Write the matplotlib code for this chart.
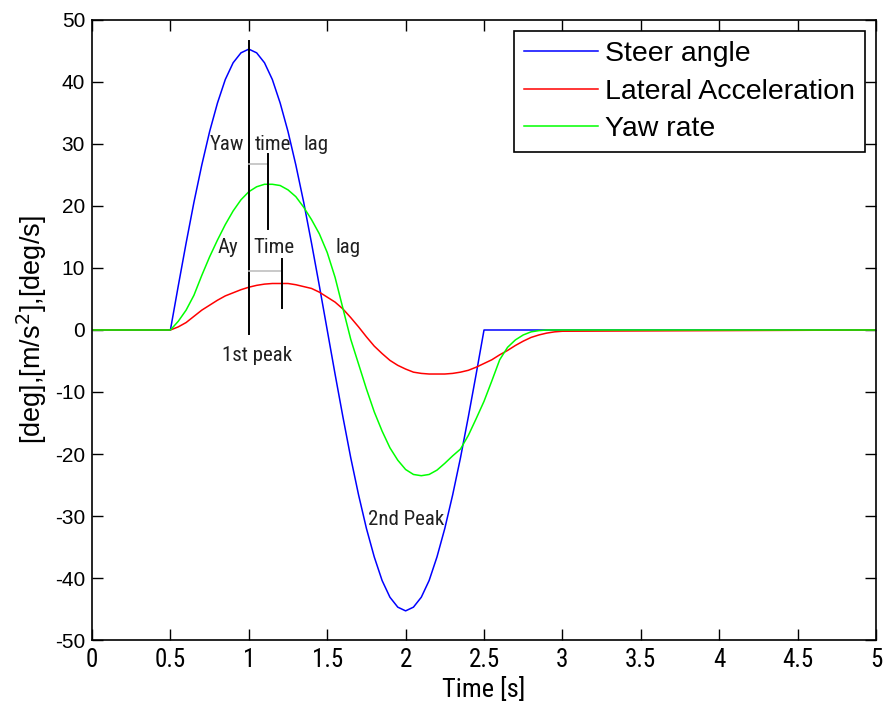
import matplotlib

matplotlib.use("Agg")
import matplotlib.pyplot as plt


# time samples [s]
time = [0.0,
        0.5, 0.55, 0.6, 0.65, 0.7, 0.75, 0.8, 0.85, 0.9, 0.95,
        1.0, 1.05, 1.1, 1.15, 1.2, 1.25, 1.3, 1.35, 1.4, 1.45,
        1.5, 1.55, 1.6, 1.65, 1.7, 1.75, 1.8, 1.85, 1.9, 1.95,
        2.0, 2.05, 2.1, 2.15, 2.2, 2.25, 2.3, 2.35, 2.4, 2.45,
        2.5, 2.55, 2.6, 2.65, 2.7, 2.75, 2.8, 2.85, 2.9, 2.95,
        3.0, 5.0]

steer = [0.0,
         0.0, 7.1, 14.0, 20.6, 26.6, 32.0, 36.6, 40.4, 43.1, 44.7,
         45.3, 44.7, 43.1, 40.4, 36.6, 32.0, 26.6, 20.6, 14.0, 7.1,
         0.0, -7.1, -14.0, -20.6, -26.6, -32.0, -36.6, -40.4, -43.1, -44.7,
         -45.3, -44.7, -43.1, -40.4, -36.6, -32.0, -26.6, -20.6, -14.0, -7.1,
         0.0, 0.0, 0.0, 0.0, 0.0, 0.0, 0.0, 0.0, 0.0, 0.0,
         0.0, 0.0]

lat_acc = [0.0,
           0.0, 0.5, 1.2, 2.2, 3.2, 4.0, 4.8, 5.5, 6.0, 6.5,
           6.9, 7.2, 7.4, 7.5, 7.5, 7.5, 7.3, 7.0, 6.7, 6.1,
           5.3, 4.5, 3.4, 2.0, 0.5, -1.1, -2.6, -3.8, -4.9, -5.7,
           -6.3, -6.8, -7.0, -7.1, -7.1, -7.1, -7.0, -6.8, -6.5, -6.0,
           -5.4, -4.8, -4.0, -3.3, -2.5, -1.8, -1.2, -0.8, -0.5, -0.3,
           -0.2, 0.0]

yaw_rate = [0.0,
            0.0, 1.4, 3.2, 5.6, 8.8, 11.8, 14.5, 17.0, 19.2, 21.0,
            22.3, 23.1, 23.5, 23.5, 23.3, 22.6, 21.5, 19.8, 17.8, 15.5,
            12.5, 8.5, 3.5, -1.5, -5.5, -9.5, -13.2, -16.3, -19.0, -21.0,
            -22.5, -23.3, -23.5, -23.3, -22.6, -21.5, -20.3, -19.2, -17.0, -14.3,
            -11.5, -8.2, -4.8, -2.8, -1.6, -0.8, -0.3, -0.1, 0.0, 0.0,
            0.0, 0.0]

labels = ["Steer angle", "Lateral Acceleration", "Yaw rate"]
colors = ["#0000ff", "#ff0000", "#00ff00"]

x_ticks = [0, 0.5, 1, 1.5, 2, 2.5, 3, 3.5, 4, 4.5, 5]
x_tick_labels = ["0", "0.5", "1", "1.5", "2", "2.5", "3", "3.5", "4", "4.5", "5"]
y_ticks = [-50, -40, -30, -20, -10, 0, 10, 20, 30, 40, 50]

narrow = ["Liberation Sans Narrow", "Roboto Condensed", "Open Sans Condensed",
          "DejaVu Sans Condensed", "Liberation Sans"]
wide = ["Liberation Sans", "DejaVu Sans"]

plt.rcParams["font.family"] = wide

fig = plt.figure(figsize=(8.83, 7.01), dpi=100)
ax = fig.add_axes([0.1042, 0.0870, 0.8879, 0.8845])

for series, lab, col in zip([steer, lat_acc, yaw_rate], labels, colors):
    ax.plot(time, series, color=col, linewidth=1.1, label=lab)

# annotation markers: 1st peak line and time lag bars
ax.plot([1.0, 1.0], [-0.7, 46.6], color="black", linewidth=1.4)
ax.plot([1.0, 1.125], [26.7, 26.7], color="#c0c0c0", linewidth=1.2)
ax.plot([1.125, 1.125], [16.3, 28.4], color="black", linewidth=1.4)
ax.plot([1.0, 1.21], [9.5, 9.5], color="#c0c0c0", linewidth=1.2)
ax.plot([1.21, 1.21], [3.6, 11.4], color="black", linewidth=1.4)

txt = dict(family=narrow, fontsize=15, va="baseline", ha="left", color="#202020",
           fontstretch="condensed")
ax.text(0.753, 29.0, "Yaw", **txt)
ax.text(1.04, 29.0, "time", **txt)
ax.text(1.346, 29.0, "lag", **txt)
ax.text(0.80, 12.4, "Ay", **txt)
ax.text(1.03, 12.4, "Time", **txt)
ax.text(1.55, 12.4, "lag", **txt)
ax.text(0.83, -5.0, "1st peak", **txt)
ax.text(1.76, -31.5, "2nd Peak", **txt)

ax.set_xlim(0, 5)
ax.set_ylim(-50, 50)
ax.set_xticks(x_ticks)
ax.set_xticklabels(x_tick_labels, family=narrow, fontsize=18, fontstretch="condensed")
ax.set_yticks(y_ticks)
ax.set_yticklabels([str(v) for v in y_ticks], fontsize=15)
ax.tick_params(direction="in", length=8, width=1, top=True, right=True, colors="black")
ax.tick_params(axis="x", pad=6)
ax.tick_params(axis="y", pad=5)
for sp in ax.spines.values():
    sp.set_linewidth(1.2)

ax.set_xlabel("Time [s]", family=narrow, fontsize=19, fontstretch="condensed", labelpad=3)
ax.set_ylabel("[deg],[m/s$^2$],[deg/s]", fontsize=19.5, labelpad=4)

leg = ax.legend(loc="upper right", fontsize=20.5, handlelength=2.6, handletextpad=0.25,
                labelspacing=0.4, borderpad=0.35, borderaxespad=0.4,
                fancybox=False, framealpha=1, edgecolor="black")
leg.get_frame().set_linewidth(1.2)

fig.savefig("out.png", dpi=100)
